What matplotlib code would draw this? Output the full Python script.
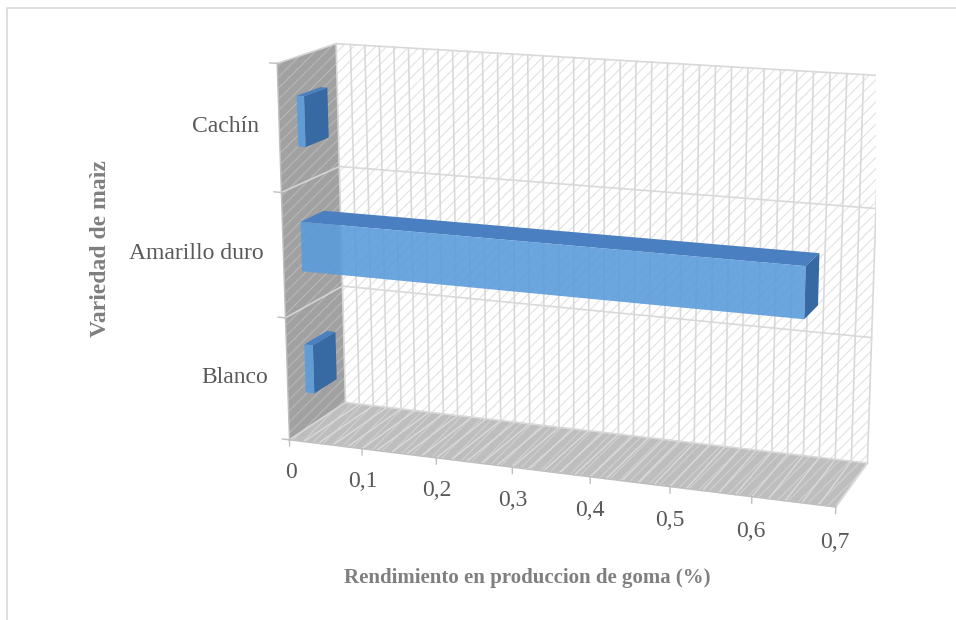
import numpy as np
import matplotlib.pyplot as plt
from matplotlib.patches import Rectangle
from mpl_toolkits.mplot3d.art3d import Poly3DCollection

# Rendimiento en produccion de goma por variedad de maiz
variedades = ["Blanco", "Amarillo duro", "Cachín"]
rendimiento = [0.012, 0.645, 0.010]

ticks_x = [0, 0.1, 0.2, 0.3, 0.4, 0.5, 0.6, 0.7]
etiquetas_x = ["0", "0,1", "0,2", "0,3", "0,4", "0,5", "0,6", "0,7"]
x_max = 0.7
paso_menor = 0.02

plt.rcParams["font.family"] = ["Liberation Serif", "DejaVu Serif"]
plt.rcParams["hatch.linewidth"] = 0.8

fig = plt.figure(figsize=(9.56, 6.2), dpi=100)
ax = fig.add_axes([0.2675, 0.0600, 0.6485, 1.0], projection="3d",
                  computed_zorder=False)
ax.set_proj_type("persp", focal_length=0.68)
ax.view_init(elev=14.4, azim=-70)
ax.set_box_aspect((907, 210, 617), zoom=1.117)
ax.set_axis_off()

n = len(variedades)

# paredes y piso (fondo blanco, lateral y piso grises, con tramado)
pared_fondo = [[(0, 1, 0), (x_max, 1, 0), (x_max, 1, n), (0, 1, n)]]
pared_izq = [[(0, 0, 0), (0, 1, 0), (0, 1, n), (0, 0, n)]]
piso = [[(0, 0, 0), (x_max, 0, 0), (x_max, 1, 0), (0, 1, 0)]]
for verts, fc, hc in [(pared_fondo, "white", "#e2e2e2"),
                      (pared_izq, "#a1a1a1", "#b8b8b8"),
                      (piso, "#bebebe", "#d1d1d1")]:
    ax.add_collection3d(Poly3DCollection(verts, facecolor=fc, edgecolor=hc,
                                         linewidth=0, hatch="///", zorder=1))

# lineas de division
for xg in np.arange(0, x_max + 1e-9, paso_menor):
    ax.plot([xg, xg], [1, 1], [0, n], color="#d9d9d9", lw=1.2, zorder=2)
    ax.plot([xg, xg], [0, 1], [0, 0], color="#dadada", lw=1.0, zorder=2)
for k in range(n + 1):
    ax.plot([0, x_max], [1, 1], [k, k], color="#d9d9d9", lw=1.2, zorder=2)
    ax.plot([0, 0], [0, 1], [k, k], color="#d4d4d4", lw=1.2, zorder=2)
ax.plot([x_max, x_max], [0, 1], [0, 0], color="#d9d9d9", lw=1.2, zorder=2)

# ejes: borde frontal del piso y de la pared lateral
ax.plot([0, x_max], [0, 0], [0, 0], color="#bfbfbf", lw=1, zorder=2)
ax.plot([0, 0], [0, 0], [0, n], color="#bfbfbf", lw=1, zorder=2)
for t, lab in zip(ticks_x, etiquetas_x):
    ax.plot([t, t], [0, 0], [0, -0.05], color="#bfbfbf", lw=1, zorder=2)
    ax.text(t, 0, -0.27, lab, ha="center", va="center", fontsize=17,
            color="#595959")
for k in range(n + 1):
    ax.plot([0, -0.01], [0, 0], [k, k], color="#bfbfbf", lw=1, zorder=2)
for k, nombre in enumerate(variedades):
    ax.text(-0.027, 0, k + 0.5, nombre, ha="right", va="center", fontsize=17,
            color="#595959")

# barras: solo se ven el frente, la cara superior y el extremo
alto = 0.4
y0, prof = 0.3, 0.4
z0 = np.arange(n) + (1 - alto) / 2
oculto = (0, 0, 0, 0)
colores = []
for _ in variedades:
    # orden de caras: abajo, arriba, frente, atras, izquierda, derecha
    colores += [oculto, "#4a80c2", (0.36, 0.61, 0.86, 0.9), oculto, oculto,
                "#3769a3"]
ax.bar3d(np.zeros(n), np.full(n, y0), z0, rendimiento, np.full(n, prof),
         np.full(n, alto), color=colores, shade=False, linewidth=0, zorder=3)

ax.set_xlim(0, x_max, view_margin=0)
ax.set_ylim(0, 1, view_margin=0)
ax.set_zlim(0, n, view_margin=0)

fig.text(100 / 956, 1 - 249 / 620, "Variedad de maìz", rotation=90,
         ha="center", va="center", fontsize=17, fontweight="bold",
         color="#7f7f7f")
fig.text(527 / 956, 1 - 578 / 620, "Rendimiento en produccion de goma (%)",
         ha="center", va="center", fontsize=15, fontweight="bold",
         color="#7f7f7f")

fig.add_artist(Rectangle((7 / 956, -0.1), 1.1, 1.1 - 8 / 620,
                         transform=fig.transFigure, fill=False,
                         ec="#d9d9d9", lw=1.2))

fig.savefig("out.png", dpi=100, facecolor="white")
